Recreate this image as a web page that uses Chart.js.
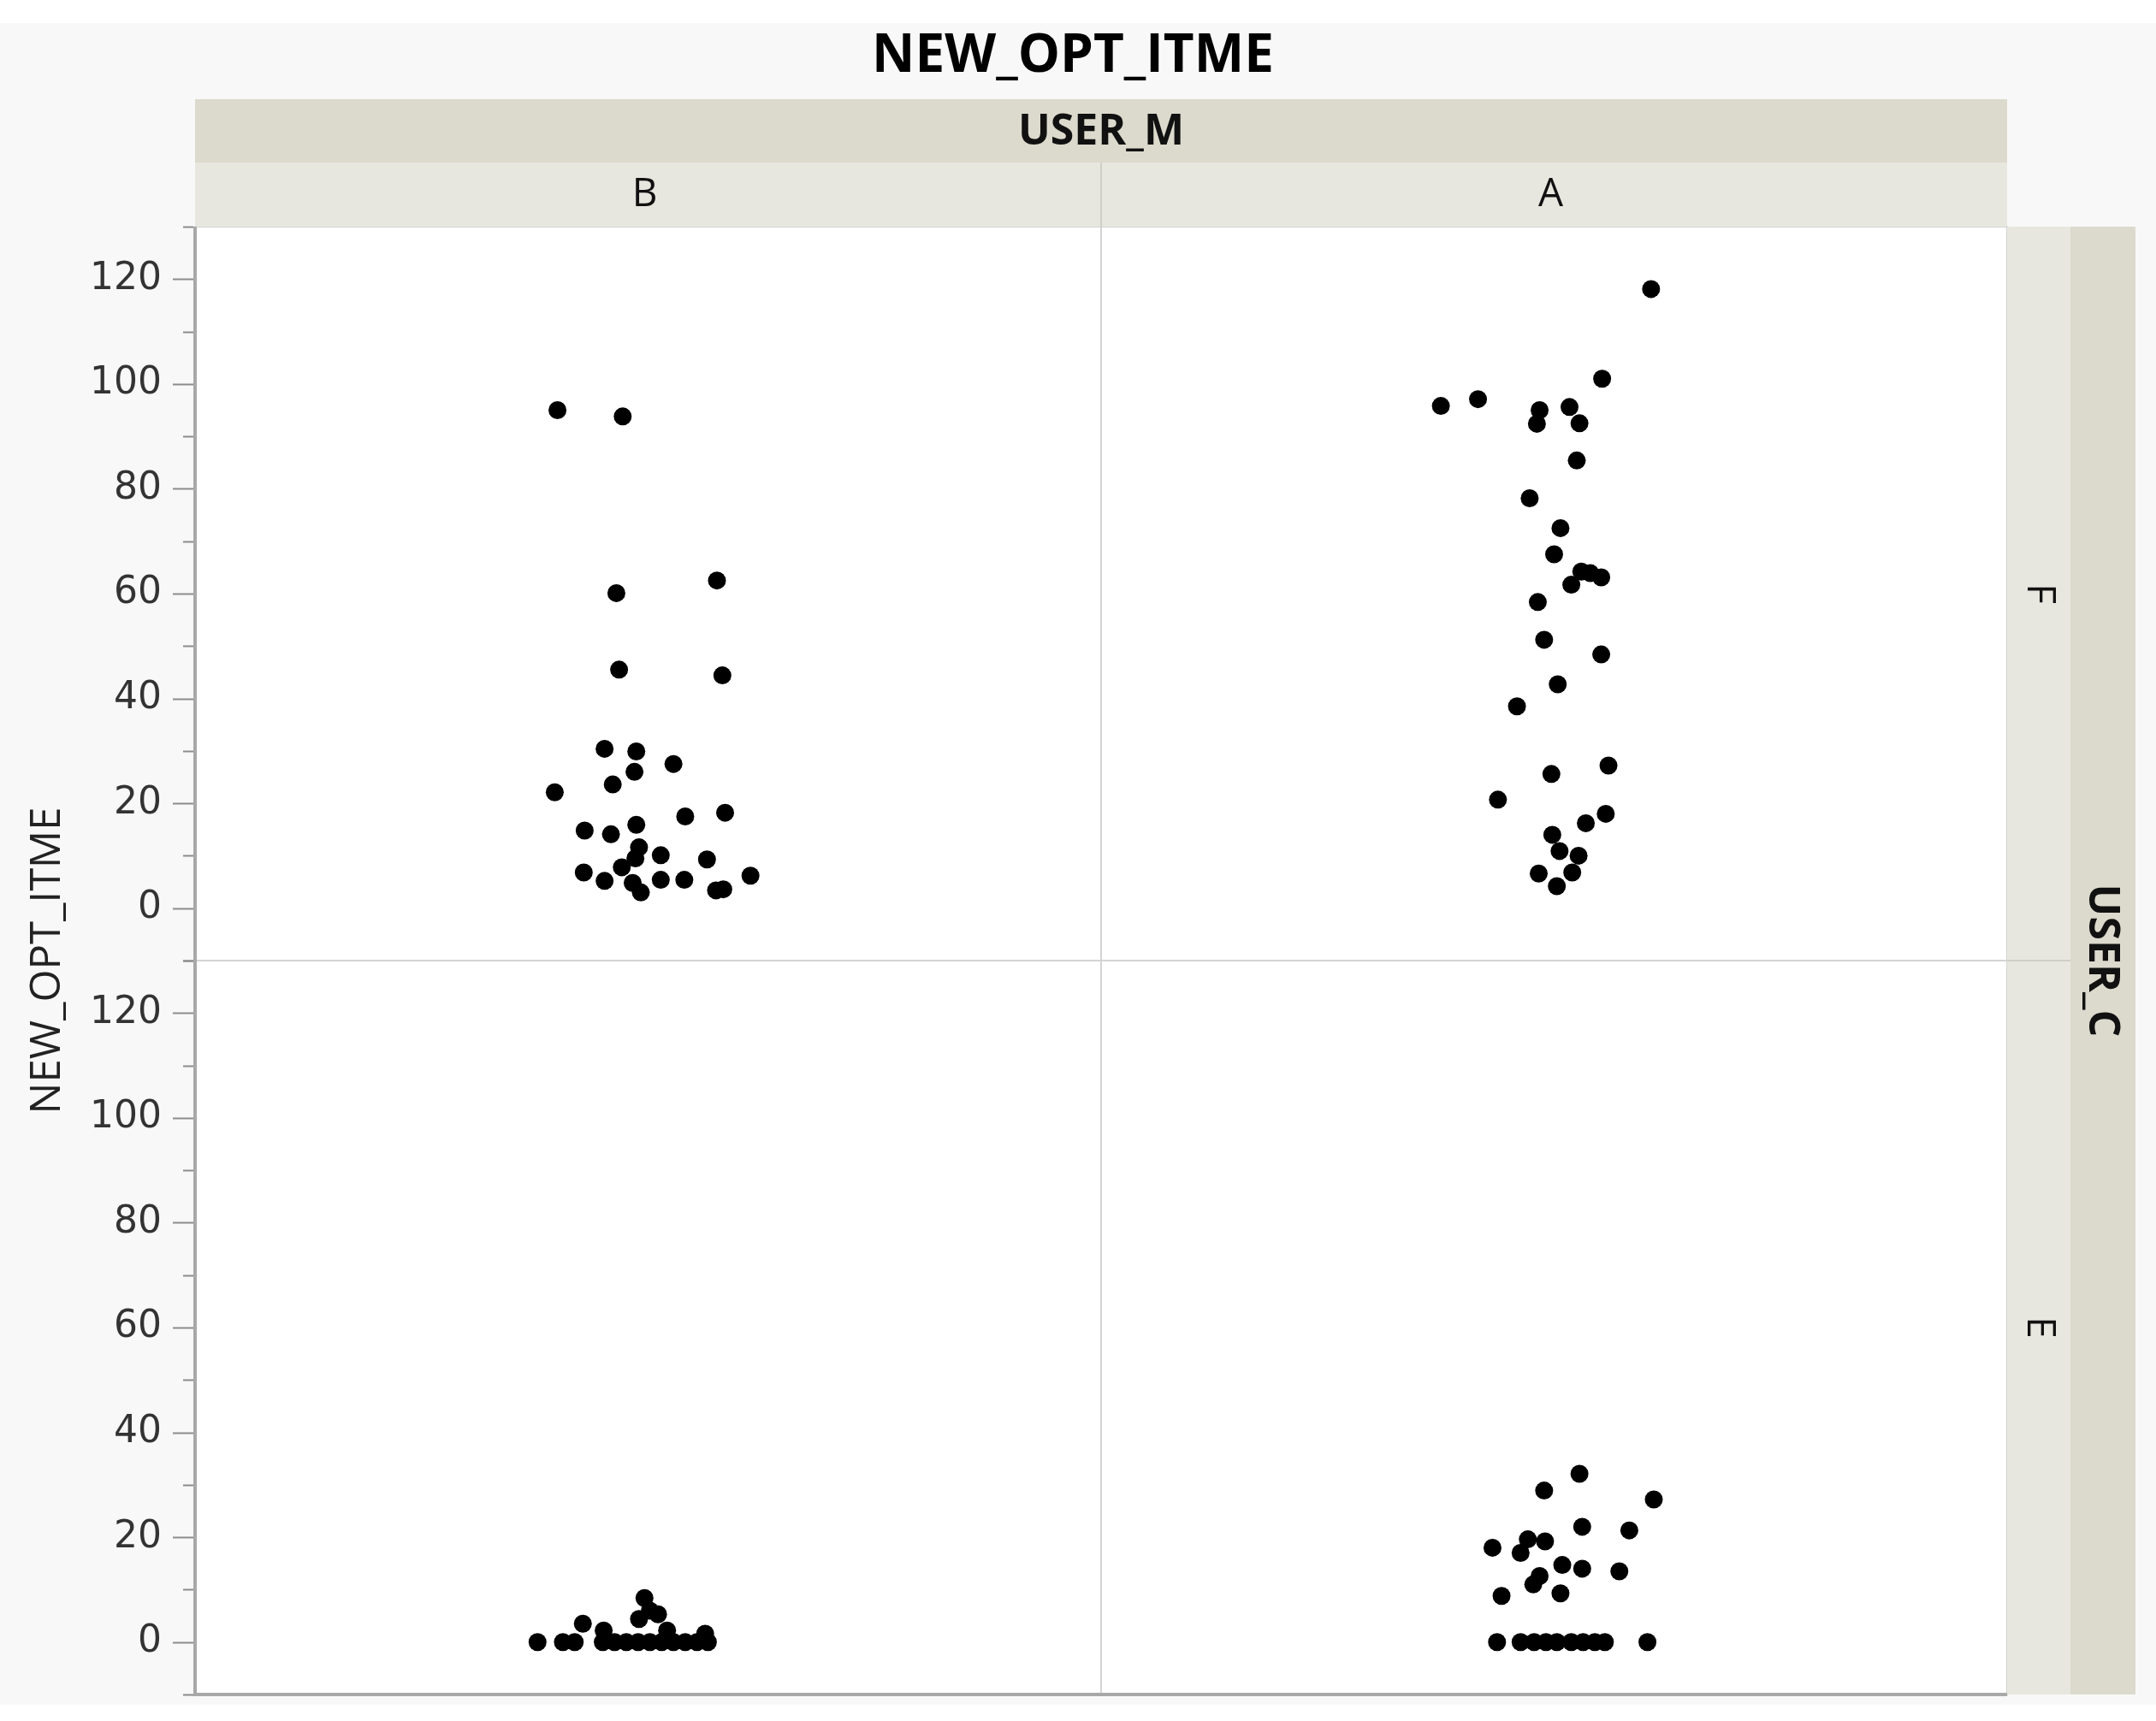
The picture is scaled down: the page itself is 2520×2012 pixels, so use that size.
<!DOCTYPE html>
<html>
<head>
<meta charset="utf-8">
<script src="https://cdn.jsdelivr.net/npm/chart.js@4/dist/chart.umd.min.js"></script>
<style>
	body { margin: 0; background: #ffffff; }
	#wrap { width: 2520px; height: 2012px; }
</style>
</head>
<body>
<div id="wrap"><canvas id="opt_chart" width="2520" height="2012"></canvas></div>
<script>
// USER_M columns and USER_C rows
const categories = ['B', 'A'];
const rows = ['F', 'E'];
const yTicks = [0, 20, 40, 60, 80, 100, 120];

// NEW_OPT_ITME values, with the horizontal jitter (share of a column width)
const fB_val = [95.0, 93.8, 62.5, 60.1, 45.5, 44.4, 30.4, 29.9, 27.5, 26.0, 23.6, 22.1, 17.5, 18.2, 14.8, 14.1, 15.9, 11.6, 10.1, 9.3, 7.8, 9.5, 6.8, 5.2, 4.8, 3.0, 5.4, 5.4, 3.4, 3.6, 6.2];
const fB_jit = [-0.100, -0.028, 0.076, -0.035, -0.032, 0.082, -0.048, -0.013, 0.028, -0.015, -0.039, -0.103, 0.041, 0.085, -0.070, -0.041, -0.013, -0.010, 0.014, 0.065, -0.029, -0.014, -0.071, -0.048, -0.017, -0.008, 0.014, 0.040, 0.075, 0.083, 0.113];

const fA_val = [118.1, 101.0, 95.8, 97.1, 95.0, 92.4, 95.6, 92.5, 85.4, 78.2, 72.5, 67.5, 64.2, 63.9, 63.1, 61.7, 58.4, 51.2, 48.4, 42.7, 38.5, 27.2, 25.6, 20.7, 18.0, 16.2, 14.0, 10.9, 10.0, 6.6, 6.8, 4.2];
const fA_jit = [0.107, 0.053, -0.125, -0.084, -0.016, -0.019, 0.017, 0.028, 0.025, -0.027, 0.007, 0.000, 0.030, 0.040, 0.052, 0.019, -0.018, -0.011, 0.052, 0.004, -0.041, 0.060, -0.003, -0.062, 0.057, 0.035, -0.002, 0.006, 0.027, -0.017, 0.020, 0.003];

const eB_val = [0, 0, 0, 3.5, 2.2, 0, 0, 0, 0, 0, 0, 0, 0, 0, 0, 8.4, 6.0, 4.4, 5.3, 2.2, 1.6];
const eB_jit = [-0.122, -0.094, -0.081, -0.072, -0.049, -0.050, -0.037, -0.024, -0.011, 0.002, 0.015, 0.028, 0.041, 0.054, 0.066, -0.004, 0.002, -0.010, 0.011, 0.021, 0.063];

const eA_val = [32.1, 28.9, 27.2, 22.0, 21.3, 18.0, 19.6, 19.2, 17.0, 14.7, 14.0, 13.5, 12.6, 11.0, 9.3, 8.8, 0, 0, 0, 0, 0, 0, 0, 0, 0, 0];
const eA_jit = [0.028, -0.011, 0.110, 0.031, 0.083, -0.068, -0.029, -0.010, -0.037, 0.009, 0.031, 0.072, -0.016, -0.023, 0.007, -0.058, -0.063, -0.037, -0.022, -0.009, 0.003, 0.019, 0.032, 0.045, 0.056, 0.103];

const toPoints = (cat, vals, jit) => vals.map((v, i) => ({ x: categories.indexOf(cat) + 0.5 + jit[i], y: v }));

const dot = {
	pointRadius: 10.5,
	pointHoverRadius: 10.5,
	backgroundColor: '#000000',
	borderWidth: 0,
	showLine: false
};

const data = {
	datasets: [
		{ label: 'F B', data: toPoints('B', fB_val, fB_jit), yAxisID: 'yF', ...dot },
		{ label: 'F A', data: toPoints('A', fA_val, fA_jit), yAxisID: 'yF', ...dot },
		{ label: 'E B', data: toPoints('B', eB_val, eB_jit), yAxisID: 'yE', ...dot },
		{ label: 'E A', data: toPoints('A', eA_val, eA_jit), yAxisID: 'yE', ...dot }
	]
};

// tick marks are drawn by the plugin; tickLength only pushes the labels left
const yAxis = () => ({
	type: 'linear',
	position: 'left',
	stack: 'rows',
	stackWeight: 1,
	min: -10,
	max: 130,
	grid: { display: false, drawTicks: true, tickLength: 39 },
	border: { display: false },
	ticks: {
		stepSize: 10,
		autoSkip: false,
		padding: 0,
		color: '#333333',
		font: { family: 'DejaVu Sans', size: 44 },
		callback: (v) => yTicks.includes(v) ? String(v) : ''
	},
	afterFit: (scale) => { scale.width = 228; }
});

const facetPlugin = {
	id: 'facetPlugin',
	beforeDraw(chart) {
		const c = chart.ctx;
		const a = chart.chartArea;
		c.save();
		c.fillStyle = '#ffffff';
		c.fillRect(0, 0, chart.width, chart.height);
		c.fillStyle = '#f8f8f8';
		c.fillRect(0, 27, chart.width, 1966);
		c.fillStyle = '#ffffff';
		c.fillRect(a.left, a.top, a.right - a.left, a.bottom - a.top);
		c.restore();
	},
	beforeDatasetsDraw(chart) {
		const c = chart.ctx;
		const a = chart.chartArea;
		const midX = chart.scales.x.getPixelForValue(1);
		const midY = chart.scales.yF.bottom;
		c.save();
		// panel frame and separators
		c.strokeStyle = '#d4d4d4';
		c.lineWidth = 2;
		c.strokeRect(a.left, a.top, a.right - a.left, a.bottom - a.top);
		c.beginPath();
		c.moveTo(midX, a.top); c.lineTo(midX, a.bottom);
		c.moveTo(a.left, midY); c.lineTo(a.right, midY);
		c.stroke();
		// axis lines
		c.strokeStyle = '#a8a8a8';
		c.lineWidth = 4;
		c.beginPath();
		c.moveTo(a.left, a.top); c.lineTo(a.left, a.bottom + 2);
		c.moveTo(a.left - 2, a.bottom); c.lineTo(a.right, a.bottom);
		c.stroke();
		// major and minor tick marks
		c.strokeStyle = '#8c8c8c';
		c.lineWidth = 2;
		['yF', 'yE'].forEach((id) => {
			const s = chart.scales[id];
			s.ticks.forEach((t) => {
				const y = Math.round(s.getPixelForValue(t.value)) + 0.5;
				const len = yTicks.includes(t.value) ? 26 : 14;
				c.beginPath();
				c.moveTo(a.left - len, y);
				c.lineTo(a.left - 2, y);
				c.stroke();
			});
		});
		c.restore();
	},
	afterDraw(chart) {
		const c = chart.ctx;
		const a = chart.chartArea;
		const midX = chart.scales.x.getPixelForValue(1);
		c.save();
		c.textAlign = 'center';
		c.textBaseline = 'middle';

		// chart title
		c.fillStyle = '#000000';
		c.font = 'bold 62px "Open Sans"';
		c.fillText('NEW_OPT_ITME', 1254, 66);

		// USER_M strip
		c.fillStyle = '#dcdacd';
		c.fillRect(a.left, a.top - 149, a.right - a.left, 75);
		c.fillStyle = '#e8e7df';
		c.fillRect(a.left, a.top - 75, a.right - a.left, 75);
		c.strokeStyle = '#d0cfc6';
		c.lineWidth = 2;
		c.beginPath();
		c.moveTo(midX, a.top - 75); c.lineTo(midX, a.top);
		c.stroke();
		c.fillStyle = '#111111';
		c.font = 'bold 50px "Open Sans"';
		c.fillText('USER_M', (a.left + a.right) / 2, a.top - 110);
		c.font = '46px "Open Sans"';
		categories.forEach((cat, i) => {
			c.fillText(cat, chart.scales.x.getPixelForValue(i + 0.5) - 4, a.top - 37);
		});

		// USER_C strip
		const yF = chart.scales.yF;
		const yE = chart.scales.yE;
		c.fillStyle = '#e8e7df';
		c.fillRect(a.right, a.top, 74, a.bottom - a.top);
		c.fillStyle = '#dcdacd';
		c.fillRect(a.right + 74, a.top, 76, a.bottom - a.top);
		c.strokeStyle = '#d0cfc6';
		c.beginPath();
		c.moveTo(a.right, yF.bottom); c.lineTo(a.right + 74, yF.bottom);
		c.stroke();
		c.fillStyle = '#111111';
		c.font = '46px "Open Sans"';
		[yF, yE].forEach((s, i) => {
			c.save();
			c.translate(a.right + 37, (s.top + s.bottom) / 2);
			c.rotate(Math.PI / 2);
			c.fillText(rows[i], 0, 0);
			c.restore();
		});
		c.save();
		c.font = 'bold 50px "Open Sans"';
		c.translate(a.right + 110, (a.top + a.bottom) / 2);
		c.rotate(Math.PI / 2);
		c.fillText('USER_C', 0, 0);
		c.restore();

		// y axis title
		c.save();
		c.fillStyle = '#222222';
		c.font = '49px "Open Sans"';
		c.translate(56, (a.top + a.bottom) / 2);
		c.rotate(-Math.PI / 2);
		c.fillText('NEW_OPT_ITME', 0, 0);
		c.restore();

		c.restore();
	}
};

const config = {
	type: 'scatter',
	data: data,
	options: {
		responsive: false,
		animation: false,
		layout: {
			padding: { top: 265, right: 174, bottom: 31, left: 0 }
		},
		scales: {
			x: {
				type: 'linear',
				min: 0,
				max: 2,
				display: false
			},
			yE: yAxis(),
			yF: yAxis()
		},
		plugins: {
			legend: { display: false },
			tooltip: { enabled: false }
		}
	},
	plugins: [facetPlugin]
};

var ctx = document.getElementById('opt_chart');
if (ctx != null) {
	const chart = new Chart(ctx, config);
}
</script>
</body>
</html>
